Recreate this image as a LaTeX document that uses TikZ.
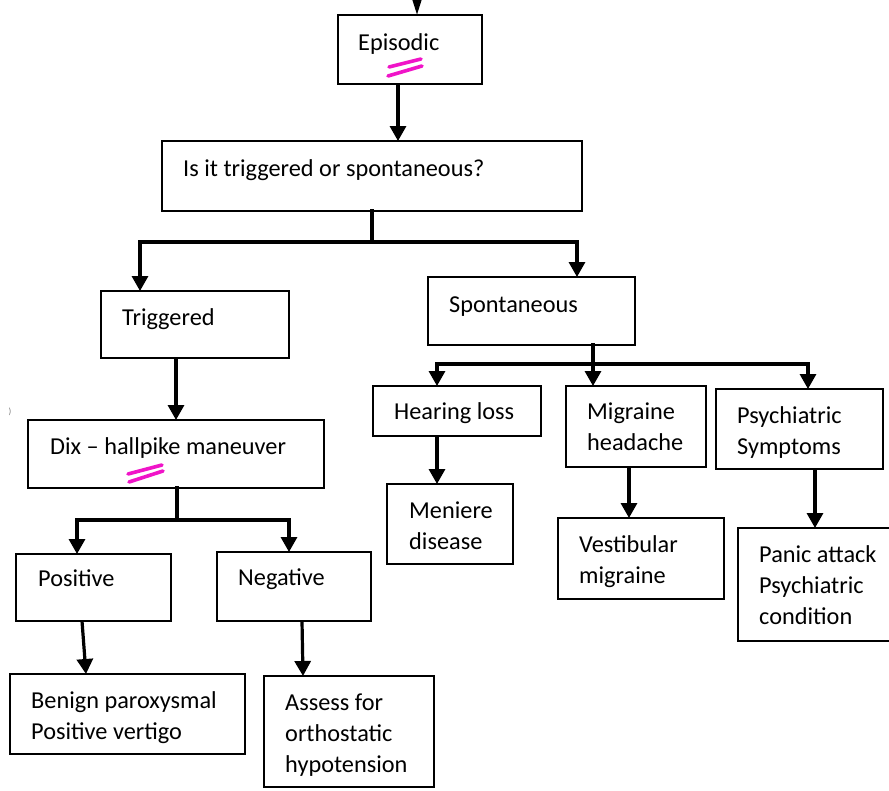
\documentclass[tikz,border=0pt]{standalone}
\usepackage{fontspec}
\setmainfont{Carlito}
\usetikzlibrary{arrows.meta}
\definecolor{pinkmark}{RGB}{240,20,200}
\tikzset{
  box/.style={draw=black, line width=1.6pt, anchor=north west, inner sep=0pt, outer sep=0pt, fill=white},
  lbl/.style={anchor=base west, inner sep=0pt, align=left, font=\fontsize{24.3}{31}\selectfont},
  conn/.style={line width=3.2pt, -{Triangle[length=15pt,width=16pt]}},
  topconn/.style={line width=3.2pt, -{Triangle[length=24pt,width=14pt]}},
  bar/.style={line width=3.2pt, line cap=rect},
  pinkstroke/.style={draw=pinkmark, line width=3.6pt, line cap=round}
}
\begin{document}
\begin{tikzpicture}[x=1pt,y=-1pt]
\useasboundingbox (0,0) rectangle (889,790);
% boxes
\node[box, minimum width=144pt, minimum height=69pt] (ep) at (338,15) {};
\node[box, minimum width=420pt, minimum height=70pt] (q) at (162,141) {};
\node[box, minimum width=188pt, minimum height=67pt] (trig) at (101,291) {};
\node[box, minimum width=207pt, minimum height=68pt] (spon) at (428,277) {};
\node[box, minimum width=296pt, minimum height=68pt] (dix) at (28,420) {};
\node[box, minimum width=155pt, minimum height=67pt] (pos) at (16,554) {};
\node[box, minimum width=154pt, minimum height=69pt] (neg) at (217,552) {};
\node[box, minimum width=235pt, minimum height=80pt] (ben) at (10,674) {};
\node[box, minimum width=170pt, minimum height=111pt] (ass) at (264,676) {};
\node[box, minimum width=168pt, minimum height=50pt] (hear) at (373,386) {};
\node[box, minimum width=126pt, minimum height=80pt] (men) at (387,484) {};
\node[box, minimum width=140pt, minimum height=81pt] (mig) at (566,386) {};
\node[box, minimum width=166pt, minimum height=81pt] (vest) at (558,518) {};
\node[box, minimum width=167pt, minimum height=80pt] (psy) at (716,389) {};
\node[box, minimum width=156pt, minimum height=113pt] (pan) at (738,528) {};
% labels (base anchor = baseline of the last line)
\node[lbl] (tep) at (358,50) {Episodic};
\node[lbl] (tq) at (183,176) {Is it triggered or spontaneous?};
\node[lbl] (ttrig) at (122,325) {Triggered};
\node[lbl] (tspon) at (449,312) {Spontaneous};
\node[lbl] (tdix) at (50,454) {Dix – hallpike maneuver};
\node[lbl] (tpos) at (38,586) {Positive};
\node[lbl] (tneg) at (238,585) {Negative};
\node[lbl] (tben) at (31,739) {Benign paroxysmal\\Positive vertigo};
\node[lbl] (tass) at (285,772) {Assess for\\orthostatic\\hypotension};
\node[lbl] (thear) at (394,419) {Hearing loss};
\node[lbl] (tmen) at (409,549) {Meniere\\disease};
\node[lbl] (tmig) at (587,450) {Migraine\\headache};
\node[lbl] (tvest) at (579,583) {Vestibular\\migraine};
\node[lbl] (tpsy) at (737,454) {Psychiatric\\Symptoms};
\node[lbl] (tpan) at (759,624) {Panic attack\\Psychiatric\\condition};
\node[anchor=center, inner sep=0pt, text=gray, font=\fontsize{9}{10}\selectfont] (stray) at (10,412) {)};
% pink marks
\draw[pinkstroke] (389,67) -- (421,59);
\draw[pinkstroke] (388,76) -- (422,66);
\draw[pinkstroke] (128,474) -- (162,465);
\draw[pinkstroke] (129,482) -- (163,471);
% coordinates
\coordinate (top) at (417,-20);
\coordinate (x398) at (398,0);
\coordinate (j1) at (372,242);
\coordinate (j1l) at (140,242);
\coordinate (j1r) at (577,242);
\coordinate (x176) at (176,0);
\coordinate (j2) at (177,520);
\coordinate (j2l) at (77,520);
\coordinate (j2r) at (289,520);
\coordinate (x82) at (82,0);
\coordinate (x86) at (86,0);
\coordinate (x302) at (302,0);
\coordinate (x303) at (303,0);
\coordinate (j3) at (593,364);
\coordinate (j3l) at (437,364);
\coordinate (j3r) at (808,364);
\coordinate (x629) at (629,0);
\coordinate (x815) at (815,0);
% connectors
\draw[topconn] (top) -- (ep.north -| top);
\draw[conn] (ep.south -| x398) -- (q.north -| x398);
\draw[bar] (q.south -| j1) -- (j1);
\draw[bar] (j1l) -- (j1r);
\draw[conn] (j1l) -- (trig.north -| j1l);
\draw[conn] (j1r) -- (spon.north -| j1r);
\draw[conn] (trig.south -| x176) -- (dix.north -| x176);
\draw[bar] (dix.south -| j2) -- (j2);
\draw[bar] (j2l) -- (j2r);
\draw[conn] (j2l) -- (pos.north -| j2l);
\draw[conn] (j2r) -- (neg.north -| j2r);
\draw[conn] (pos.south -| x82) -- (ben.north -| x86);
\draw[conn] (neg.south -| x302) -- (ass.north -| x303);
\draw[bar] (spon.south -| j3) -- (j3);
\draw[bar] (j3l) -- (j3r);
\draw[conn] (j3l) -- (hear.north -| j3l);
\draw[conn] (j3) -- (mig.north -| j3);
\draw[conn] (j3r) -- (psy.north -| j3r);
\draw[conn] (hear.south -| j3l) -- (men.north -| j3l);
\draw[conn] (mig.south -| x629) -- (vest.north -| x629);
\draw[conn] (psy.south -| x815) -- (pan.north -| x815);
\end{tikzpicture}
\end{document}
